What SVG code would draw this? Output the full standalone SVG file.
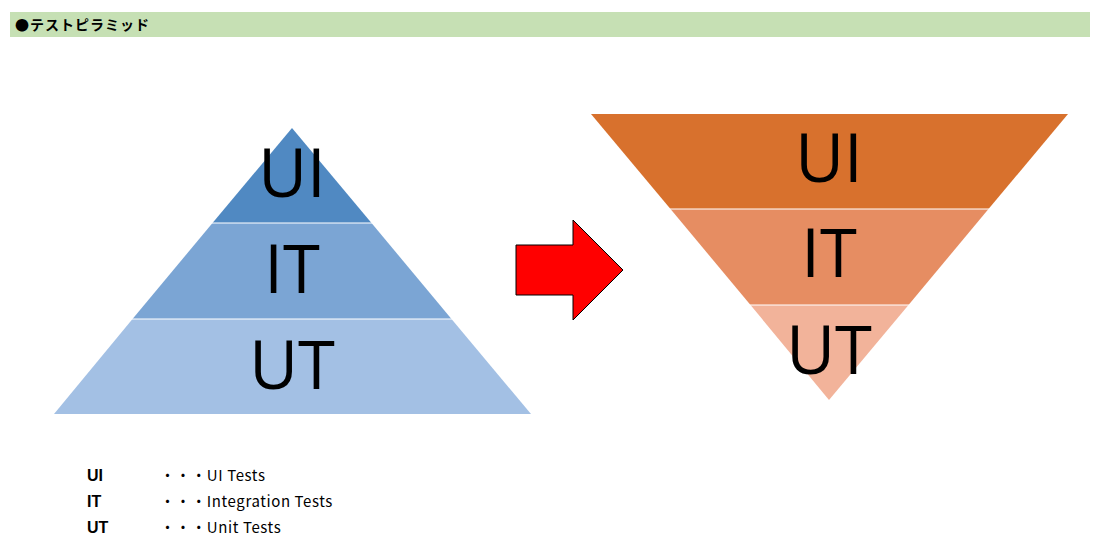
<svg xmlns="http://www.w3.org/2000/svg" width="1115" height="555" viewBox="0 0 1115 555">
<style>
.big{font-family:"Open Sans","Noto Sans",sans-serif;font-size:67px;fill:#000;text-anchor:middle}
.sep{stroke:#fff;stroke-width:1.2}
.leg{font-family:"Noto Sans CJK JP","Noto Sans",sans-serif;font-size:15px;fill:#000;letter-spacing:0.6px}
.legb{font-family:"Liberation Sans",Arial,sans-serif;font-size:16px;font-weight:bold;fill:#000}
</style>
<rect width="1115" height="555" fill="#fff"/>
<g id="header">
<rect x="10" y="12" width="1080" height="25" fill="#c6e0b4"/>
<text x="15" y="30" font-family="'Noto Sans CJK JP',sans-serif" font-size="14" font-weight="bold" fill="#000" letter-spacing="1">●テストピラミッド</text>
</g>
<g id="pyramid">
<polygon points="292,128 371.5,223 212.5,223" fill="#5089c2"/>
<polygon points="212.5,223 371.5,223 451.5,319 132.5,319" fill="#7ba5d4"/>
<polygon points="132.5,319 451.5,319 531,414 54,414" fill="#a3c0e4"/>
<line class="sep" x1="212" y1="223" x2="372" y2="223"/>
<line class="sep" x1="132" y1="319" x2="452" y2="319"/>
<text class="big" x="292" y="197">UI</text>
<text class="big" x="292" y="293">IT</text>
<text class="big" x="292" y="389">UT</text>
</g>
<g id="connectors">
<polygon points="516,245 573,245 573,220 623,270 573,320 573,295 516,295" fill="#ff0000" stroke="#000" stroke-width="1"/>
</g>
<g id="inverted">
<polygon points="591,114 1068,114 988.5,209 670.5,209" fill="#d8712d"/>
<polygon points="670.5,209 988.5,209 908.5,305 750.5,305" fill="#e68d62"/>
<polygon points="750.5,305 908.5,305 829,400" fill="#f2b39a"/>
<line class="sep" x1="670" y1="209" x2="989" y2="209"/>
<line class="sep" x1="750" y1="305" x2="909" y2="305"/>
<text class="big" x="829" y="182">UI</text>
<text class="big" x="829" y="277">IT</text>
<text class="big" x="829" y="374">UT</text>
</g>
<g id="legend">
<text class="legb" x="87" y="481">UI</text>
<text class="legb" x="87" y="507">IT</text>
<text class="legb" x="87" y="533">UT</text>
<text class="leg" x="160" y="481">・・・UI Tests</text>
<text class="leg" x="160" y="507">・・・Integration Tests</text>
<text class="leg" x="160" y="533">・・・Unit Tests</text>
</g>
</svg>
